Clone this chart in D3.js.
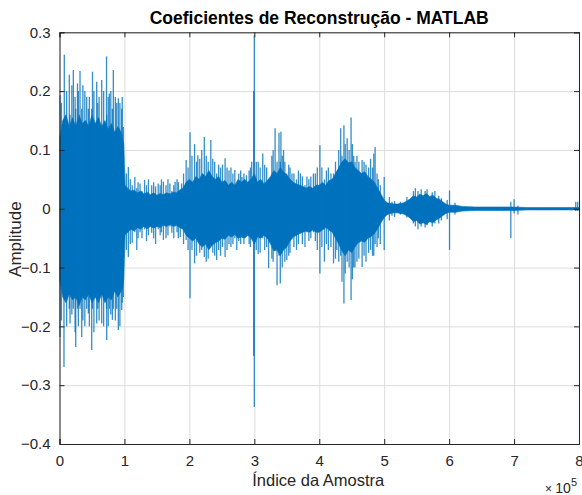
<!DOCTYPE html>
<html>
<head>
<meta charset="utf-8">
<script src="https://cdn.jsdelivr.net/npm/d3@7"></script>
<style>
    body { margin: 0; background: #fff; }
    svg { display: block; font-family: "Liberation Sans", Arial, sans-serif; }
    .axis path, .axis line { stroke: #262626; }
    .axis text { fill: #262626; font-size: 15px; }
    .grid line { stroke: #dcdcdc; }
    .grid path { display: none; }
</style>
</head>
<body>
<svg id="main-chart" width="582" height="495"></svg>
<script>
// Envelope of the dense part of the signal (sample index in thousands)
const coreSamples = [0, 5, 10, 15, 20, 25, 30, 35, 40, 45, 50, 55, 60, 65, 70, 75, 80, 85, 90, 95, 97, 99, 101,
    105, 110, 115, 120, 125, 130, 135, 140, 145, 150, 155, 160, 165, 170, 175, 180, 185, 190, 195, 200,
    205, 210, 215, 220, 225, 230, 235, 240, 245, 250, 255, 260, 265, 270, 275, 280, 285, 290, 295, 300,
    305, 310, 315, 320, 325, 330, 335, 340, 345, 350, 355, 360, 365, 370, 375, 380, 385, 390, 395, 400,
    405, 410, 415, 420, 425, 430, 435, 440, 445, 450, 455, 460, 465, 470, 475, 480, 485, 490, 495, 500,
    505, 510, 515, 520, 525, 530, 535, 540, 545, 550, 555, 560, 565, 570, 575, 580, 585, 590, 595, 600,
    610, 620, 640, 660, 680, 700, 720, 740, 760, 780, 800];
const coreUpper = [0.12, 0.15, 0.16, 0.14, 0.155, 0.14, 0.16, 0.145, 0.15, 0.14, 0.16, 0.145, 0.155, 0.14, 0.15, 0.135, 0.145, 0.13, 0.14, 0.13, 0.12, 0.11, 0.04,
    0.035, 0.03, 0.032, 0.027, 0.03, 0.025, 0.028, 0.024, 0.027, 0.023, 0.026, 0.024, 0.027, 0.025, 0.028, 0.027, 0.032, 0.035, 0.045, 0.05,
    0.045, 0.055, 0.05, 0.06, 0.055, 0.065, 0.055, 0.05, 0.055, 0.045, 0.048, 0.04, 0.045, 0.04, 0.05, 0.045, 0.05, 0.045, 0.05, 0.06,
    0.045, 0.05, 0.042, 0.048, 0.055, 0.065, 0.06, 0.07, 0.062, 0.058, 0.05, 0.045, 0.042, 0.04, 0.038, 0.035, 0.038, 0.035, 0.04, 0.04,
    0.045, 0.04, 0.048, 0.05, 0.06, 0.07, 0.08, 0.085, 0.078, 0.08, 0.07, 0.065, 0.06, 0.063, 0.055, 0.05, 0.045, 0.035, 0.025, 0.015,
    0.01, 0.009, 0.008, 0.008, 0.009, 0.01, 0.013, 0.017, 0.022, 0.02, 0.025, 0.022, 0.026, 0.021, 0.023, 0.018, 0.016, 0.012, 0.008, 0.006,
    0.006, 0.004, 0.003, 0.003, 0.003, 0.003, 0.002, 0.002, 0.002, 0.002, 0.002];
const coreLower = [-0.12, -0.15, -0.16, -0.145, -0.155, -0.15, -0.165, -0.15, -0.155, -0.145, -0.16, -0.15, -0.16, -0.145, -0.16, -0.15, -0.155, -0.14, -0.15, -0.14, -0.135, -0.12, -0.045,
    -0.04, -0.035, -0.038, -0.032, -0.035, -0.03, -0.034, -0.03, -0.033, -0.03, -0.032, -0.028, -0.03, -0.027, -0.03, -0.028, -0.032, -0.035, -0.045, -0.05,
    -0.055, -0.05, -0.06, -0.065, -0.06, -0.07, -0.062, -0.058, -0.055, -0.05, -0.052, -0.045, -0.048, -0.044, -0.05, -0.048, -0.05, -0.045, -0.05, -0.06,
    -0.048, -0.05, -0.045, -0.05, -0.06, -0.072, -0.07, -0.08, -0.07, -0.065, -0.055, -0.048, -0.045, -0.042, -0.04, -0.038, -0.04, -0.036, -0.04, -0.04,
    -0.036, -0.032, -0.036, -0.04, -0.05, -0.06, -0.072, -0.08, -0.07, -0.075, -0.065, -0.058, -0.055, -0.057, -0.05, -0.047, -0.042, -0.034, -0.024, -0.015,
    -0.01, -0.008, -0.007, -0.007, -0.008, -0.009, -0.012, -0.016, -0.022, -0.02, -0.026, -0.024, -0.027, -0.022, -0.024, -0.019, -0.016, -0.012, -0.008, -0.006,
    -0.006, -0.004, -0.003, -0.003, -0.003, -0.003, -0.002, -0.002, -0.002, -0.002, -0.002];

// Isolated peaks (sample index in thousands, max, min)
const spikeSamples = [0.8, 3, 6.9, 7.4, 11, 15.1, 16.2, 19, 21.3, 24, 25, 27.7, 29, 31.6, 34.2, 36, 39, 41.9, 44.4, 46,
    49.6, 50.8, 53, 57.3, 58.9, 61, 65, 68, 72.4, 72.7, 75, 76.7, 79, 81.4, 82.9, 86, 88.1, 90.6, 93, 95.8,
    96.6, 98.3, 103, 106, 109, 112, 116, 119, 121, 124, 127, 131, 134, 137, 142, 145, 148, 152, 155, 157,
    160, 164, 167, 170, 173, 176, 178, 181, 183, 186, 188, 191, 195, 198, 201, 204, 208, 211, 213, 216,
    219, 223, 226, 229, 233, 236, 239, 242, 245, 248, 251, 255, 258, 261, 264, 267, 270, 273, 276, 279,
    281, 284, 288, 292, 294, 296, 299, 300, 303, 306, 309, 313, 316, 319, 322, 324, 327, 329, 332, 335,
    338, 340, 341, 343, 345, 347, 350, 353, 355, 358, 361, 365, 368, 371, 374, 378, 381, 384, 387, 391,
    394, 397, 401, 404, 408, 411, 414, 418, 422, 425, 427, 430, 433, 435, 438, 440, 443, 446, 449, 451,
    453, 455, 458, 461, 466, 469, 472, 476, 479, 482, 484, 486, 489, 491, 494, 500, 508, 512, 516, 525,
    535, 545, 548, 552, 557, 563, 566, 574, 578, 584, 588, 597, 600.6, 609, 695, 700, 706, 795, 798];
const spikeUpper = [0.193, 0.18, 0.15, 0.262, 0.2, 0.228, 0.16, 0.21, 0.236, 0.19, 0.17, 0.213, 0.2, 0.234, 0.17, 0.21, 0.2, 0.19, 0.17, 0.19,
    0.17, 0.233, 0.2, 0.216, 0.18, 0.19, 0.219, 0.2, 0.259, 0.16, 0.19, 0.196, 0.2, 0.17, 0.236, 0.19, 0.18, 0.188, 0.18, 0.17,
    0.19, 0.139, 0.06, 0.071, 0.05, 0.04, 0.054, 0.035, 0.045, 0.043, 0.03, 0.049, 0.04, 0.05, 0.04, 0.045, 0.038, 0.043, 0.04, 0.05,
    0.046, 0.04, 0.05, 0.043, 0.03, 0.04, 0.046, 0.05, 0.045, 0.03, 0.043, 0.06, 0.083, 0.07, 0.13, 0.09, 0.11, 0.08, 0.091, 0.085,
    0.1, 0.122, 0.09, 0.08, 0.117, 0.085, 0.08, 0.06, 0.075, 0.07, 0.075, 0.086, 0.07, 0.065, 0.07, 0.06, 0.066, 0.04, 0.06, 0.065,
    0.054, 0.06, 0.057, 0.065, 0.07, 0.08, 0.2, 0.295, 0.08, 0.08, 0.07, 0.094, 0.075, 0.07, 0.05, 0.046, 0.09, 0.1, 0.137, 0.08,
    0.129, 0.08, 0.131, 0.09, 0.1, 0.08, 0.06, 0.075, 0.07, 0.06, 0.06, 0.05, 0.065, 0.06, 0.055, 0.04, 0.055, 0.05, 0.055, 0.06,
    0.06, 0.07, 0.108, 0.07, 0.05, 0.065, 0.07, 0.06, 0.06, 0.08, 0.06, 0.1, 0.137, 0.09, 0.142, 0.11, 0.12, 0.1, 0.155, 0.11,
    0.09, 0.08, 0.09, 0.08, 0.083, 0.08, 0.075, 0.07, 0.085, 0.07, 0.094, 0.105, 0.06, 0.05, 0.04, 0.054, 0.02, 0.012, 0.013, 0.012,
    0.02, 0.03, 0.035, 0.03, 0.033, 0.03, 0.033, 0.028, 0.03, 0.022, 0.018, 0.015, 0.031, 0.01, 0.012, 0.016, 0.005, 0.012, 0.012];
const spikeLower = [-0.218, -0.19, -0.269, -0.15, -0.2, -0.17, -0.195, -0.18, -0.17, -0.21, -0.235, -0.17, -0.2, -0.17, -0.218, -0.19, -0.2, -0.17, -0.178, -0.2,
    -0.24, -0.17, -0.21, -0.195, -0.17, -0.19, -0.195, -0.2, -0.17, -0.223, -0.2, -0.17, -0.18, -0.189, -0.17, -0.19, -0.17, -0.206, -0.2, -0.172,
    -0.16, -0.15, -0.07, -0.082, -0.06, -0.058, -0.04, -0.07, -0.05, -0.04, -0.05, -0.035, -0.055, -0.045, -0.041, -0.05, -0.06, -0.035, -0.045, -0.04,
    -0.053, -0.05, -0.045, -0.03, -0.041, -0.05, -0.03, -0.04, -0.05, -0.048, -0.03, -0.06, -0.053, -0.07, -0.152, -0.07, -0.093, -0.08, -0.05, -0.075,
    -0.07, -0.082, -0.09, -0.085, -0.06, -0.075, -0.08, -0.087, -0.07, -0.08, -0.065, -0.082, -0.07, -0.06, -0.065, -0.06, -0.05, -0.07, -0.055, -0.06,
    -0.04, -0.06, -0.04, -0.06, -0.065, -0.05, -0.25, -0.337, -0.07, -0.077, -0.075, -0.05, -0.07, -0.065, -0.101, -0.05, -0.085, -0.09, -0.07, -0.13,
    -0.08, -0.127, -0.07, -0.1, -0.07, -0.09, -0.087, -0.08, -0.075, -0.05, -0.065, -0.07, -0.06, -0.04, -0.06, -0.065, -0.04, -0.055, -0.05, -0.04,
    -0.055, -0.07, -0.11, -0.065, -0.09, -0.06, -0.07, -0.065, -0.093, -0.085, -0.07, -0.09, -0.08, -0.124, -0.161, -0.11, -0.09, -0.1, -0.155, -0.12,
    -0.1, -0.1, -0.09, -0.085, -0.099, -0.08, -0.09, -0.075, -0.07, -0.08, -0.08, -0.06, -0.065, -0.05, -0.06, -0.07, -0.02, -0.012, -0.014, -0.01,
    -0.015, -0.025, -0.03, -0.035, -0.03, -0.032, -0.028, -0.03, -0.025, -0.025, -0.02, -0.018, -0.07, -0.01, -0.05, -0.008, -0.01, -0.004, -0.004];

const xTickValues = [0, 1, 2, 3, 4, 5, 6, 7, 8];          // x 10^5
const yTickValues = [-0.4, -0.3, -0.2, -0.1, 0, 0.1, 0.2, 0.3];

const titleText = 'Coeficientes de Reconstrução - MATLAB';
const xLabelText = 'Índice da Amostra';
const yLabelText = 'Amplitude';

class WaveformChart {
    constructor() {
        this.margin = { top: 32.3, right: 3, bottom: 51, left: 59.5 };
        this.width = 582 - this.margin.left - this.margin.right;
        this.height = 495 - this.margin.top - this.margin.bottom;
        this.color = '#0072BD';

        this.x = d3.scaleLinear().domain([0, 8e5]).range([0, this.width]);
        this.y = d3.scaleLinear().domain([-0.4, 0.3]).range([this.height, 0]);

        this.svg = d3.select('#main-chart');
        this.g = this.svg.append('g')
            .attr('transform', `translate(${this.margin.left},${this.margin.top})`);

        this.drawGrid();
        this.drawSignal();
        this.drawAxes();
        this.drawLabels();
    }

    drawGrid() {
        this.g.append('g')
            .attr('class', 'grid')
            .attr('transform', `translate(0,${this.height})`)
            .call(d3.axisBottom(this.x).tickValues(xTickValues.map(v => v * 1e5))
                .tickSize(-this.height).tickFormat(''));
        this.g.append('g')
            .attr('class', 'grid')
            .call(d3.axisLeft(this.y).tickValues(yTickValues)
                .tickSize(-this.width).tickFormat(''));
    }

    drawSignal() {
        const core = coreSamples.map((s, i) => ({ s: s * 1e3, hi: coreUpper[i], lo: coreLower[i] }));
        const spikes = spikeSamples.map((s, i) => ({ s: s * 1e3, hi: spikeUpper[i], lo: spikeLower[i] }));

        const area = d3.area()
            .x(d => this.x(d.s))
            .y0(d => this.y(d.lo))
            .y1(d => this.y(d.hi));

        this.g.append('path')
            .datum(core)
            .attr('d', area)
            .attr('fill', this.color)
            .attr('stroke', this.color)
            .attr('stroke-width', 0.6);

        this.g.append('g')
            .selectAll('line')
            .data(spikes)
            .join('line')
            .attr('x1', d => this.x(d.s))
            .attr('x2', d => this.x(d.s))
            .attr('y1', d => this.y(d.lo))
            .attr('y2', d => this.y(d.hi))
            .attr('stroke', this.color)
            .attr('stroke-width', 1.3)
            .attr('stroke-opacity', 0.8);
    }

    drawAxes() {
        const tick = 5;
        const xTicks = xTickValues.map(v => v * 1e5);

        const bottom = this.g.append('g')
            .attr('class', 'axis')
            .attr('transform', `translate(0,${this.height})`)
            .call(d3.axisBottom(this.x).tickValues(xTicks).tickSize(-tick)
                .tickPadding(11).tickFormat((d, i) => xTickValues[i]));
        bottom.selectAll('text').attr('dy', '0.71em');
        // keep the last label inside the picture
        bottom.selectAll('.tick:last-of-type text').attr('text-anchor', 'end').attr('dx', 4);

        this.g.append('g')
            .attr('class', 'axis')
            .call(d3.axisTop(this.x).tickValues(xTicks).tickSize(-tick).tickFormat(''));

        this.g.append('g')
            .attr('class', 'axis')
            .call(d3.axisLeft(this.y).tickValues(yTickValues).tickSize(-tick)
                .tickPadding(9).tickFormat(d => d === 0 ? '0' : d3.format('.1f')(d)));

        this.g.append('g')
            .attr('class', 'axis')
            .attr('transform', `translate(${this.width},0)`)
            .call(d3.axisRight(this.y).tickValues(yTickValues).tickSize(-tick).tickFormat(''));

        this.g.selectAll('.axis path').attr('stroke-width', 1);
    }

    drawLabels() {
        const cx = this.margin.left + this.width / 2;

        this.svg.append('text')
            .attr('x', cx)
            .attr('y', 24)
            .attr('text-anchor', 'middle')
            .style('font-size', '17.5px')
            .style('font-weight', 'bold')
            .style('fill', '#000')
            .text(titleText);

        this.svg.append('text')
            .attr('x', cx - 1)
            .attr('y', 486)
            .attr('text-anchor', 'middle')
            .style('font-size', '16.5px')
            .style('fill', '#262626')
            .text(xLabelText);

        this.svg.append('text')
            .attr('transform', `translate(21,${this.margin.top + this.height / 2 + 1}) rotate(-90)`)
            .attr('text-anchor', 'middle')
            .style('font-size', '17px')
            .style('fill', '#262626')
            .text(yLabelText);

        // exponent marker
        const exp = this.svg.append('text')
            .attr('x', 577)
            .attr('y', 493)
            .attr('text-anchor', 'end')
            .style('font-size', '14px')
            .style('fill', '#262626');
        exp.append('tspan').style('font-size', '12px').text('× ');
        exp.append('tspan').text('10');
        exp.append('tspan').attr('dy', -7).style('font-size', '11px').text('5');
    }
}

new WaveformChart();
</script>
</body>
</html>
